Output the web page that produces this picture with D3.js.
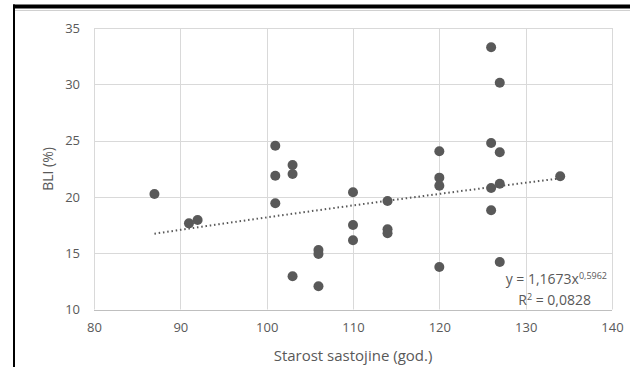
<!DOCTYPE html>
<html><head><meta charset="utf-8">
<script src="https://cdn.jsdelivr.net/npm/d3@7/dist/d3.min.js"></script>
<style>
html,body{margin:0;padding:0;background:#fff;}
svg{display:block;font-family:"Open Sans","Noto Sans",sans-serif;}
</style></head>
<body>
<svg id="c" width="630" height="367"></svg>
<script>
// Data
const ageX = [87,91,92,101,101,101,103,103,103,106,106,106,110,110,110,114,114,114,120,120,120,120,126,126,126,126,127,127,127,127,134];
const bliY = [20.26,17.65,17.95,24.55,21.88,19.43,22.83,22.03,12.95,15.28,14.93,12.06,20.41,17.50,16.15,19.64,17.12,16.77,24.05,21.71,20.99,13.77,33.29,24.79,20.79,18.82,30.14,23.96,21.16,14.22,21.83];
const xTicks = [80,90,100,110,120,130,140];
const yTicks = [10,15,20,25,30,35];
const trendCoef = 1.1673, trendExp = 0.5962;
const eqText = "y = 1,1673x", eqSup = "0,5962", r2Text = " = 0,0828";
const xTitle = "Starost sastojine (god.)", yTitle = "BLI (%)";

const svg = d3.select("#c");
const L = 94, R = 612, T = 28, B = 309.5;
const x = d3.scaleLinear().domain([80,140]).range([L,R]);
const y = d3.scaleLinear().domain([10,35]).range([B,T]);

// outer frame pieces
svg.append("rect").attr("x",13).attr("y",4.5).attr("width",617).attr("height",4).attr("fill","#000");
svg.append("rect").attr("x",13).attr("y",4.5).attr("width",2).attr("height",363).attr("fill","#000");
svg.append("line").attr("x1",15).attr("x2",630).attr("y1",10.5).attr("y2",10.5).attr("stroke","#d0d0d0").attr("stroke-width",1);

// gridlines
const g = svg.append("g");
g.selectAll(".vg").data(xTicks).enter().append("line")
  .attr("x1",d=>Math.round(x(d))+0.5).attr("x2",d=>Math.round(x(d))+0.5)
  .attr("y1",T).attr("y2",B).attr("stroke","#d9d9d9").attr("stroke-width",1);
g.selectAll(".hg").data(yTicks).enter().append("line")
  .attr("x1",L).attr("x2",R)
  .attr("y1",d=>Math.round(y(d))+0.5).attr("y2",d=>Math.round(y(d))+0.5)
  .attr("stroke",d=>d===10?"#bfbfbf":"#d9d9d9").attr("stroke-width",1);

// axes (labels only)
const xAxis = d3.axisBottom(x).tickValues(xTicks).tickSize(0).tickPadding(13);
const xa = svg.append("g").attr("transform",`translate(0,${B})`).call(xAxis);
xa.select(".domain").remove();
xa.selectAll("text").attr("fill","#595959").style("font-size","13px").style("font-family","'Open Sans',sans-serif");
const yAxis = d3.axisLeft(y).tickValues(yTicks).tickSize(0).tickPadding(14);
const ya = svg.append("g").attr("transform",`translate(${L},0)`).call(yAxis);
ya.select(".domain").remove();
ya.selectAll("text").attr("fill","#595959").style("font-size","13px").style("font-family","'Open Sans',sans-serif");

// titles
svg.append("text").attr("x",353).attr("y",361).attr("text-anchor","middle")
  .attr("fill","#595959").style("font-size","15px").text(xTitle);
svg.append("text").attr("transform","translate(53,169) rotate(-90)").attr("text-anchor","middle")
  .attr("fill","#595959").style("font-size","14px").text(yTitle);

// trendline
const tx = d3.range(87,134.01,0.5);
const line = d3.line().x(d=>x(d)).y(d=>y(trendCoef*Math.pow(d,trendExp)));
svg.append("path").datum(tx).attr("d",line).attr("fill","none")
  .attr("stroke","#595959").attr("stroke-width",2).attr("stroke-dasharray","1.5,2.8");

// points
const pts = ageX.map((v,i)=>({x:v,y:bliY[i]}));
svg.selectAll(".pt").data(pts).enter().append("circle")
  .attr("cx",d=>x(d.x)).attr("cy",d=>y(d.y)).attr("r",5).attr("fill","#595959");

// equation
const eq = svg.append("text").attr("x",607).attr("y",284).attr("text-anchor","end")
  .attr("fill","#595959").style("font-size","14px");
eq.append("tspan").text(eqText);
eq.append("tspan").attr("dy",-5).style("font-size","9px").text(eqSup);
const r2 = svg.append("text").attr("x",591).attr("y",305).attr("text-anchor","end")
  .attr("fill","#595959").style("font-size","14px");
r2.append("tspan").text("R");
r2.append("tspan").attr("dy",-5).style("font-size","9px").text("2");
r2.append("tspan").attr("dy",5).text(r2Text);
</script>
</body></html>
